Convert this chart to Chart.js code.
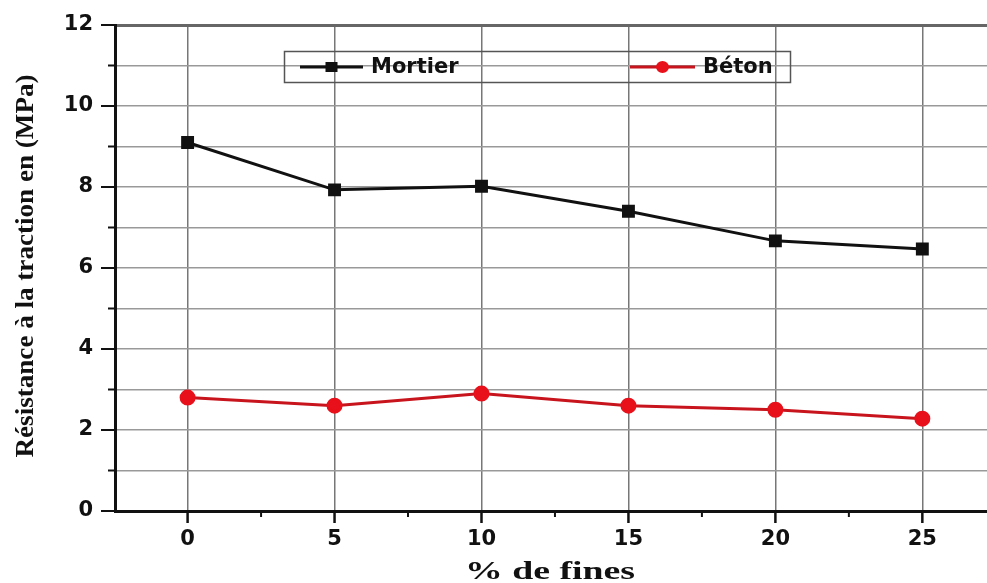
<!DOCTYPE html>
<html><head><meta charset="utf-8">
<script src="https://cdn.jsdelivr.net/npm/chart.js@4/dist/chart.umd.min.js"></script>
<style>html,body{margin:0;padding:0;background:#fff}#wrap{width:987px;height:583px}</style>
</head><body><div id="wrap"><canvas id="c" width="987" height="583"></canvas></div>
<script>
const fines = [0, 5, 10, 15, 20, 25];
const mortier = [9.1, 7.93, 8.02, 7.4, 6.67, 6.47];
const beton = [2.8, 2.6, 2.9, 2.6, 2.5, 2.28];
const xTickValues = [0, 5, 10, 15, 20, 25];
const xMinorValues = [2.5, 7.5, 12.5, 17.5, 22.5];
const yTickValues = [0, 2, 4, 6, 8, 10, 12];
const yMinorValues = [1, 3, 5, 7, 9, 11];
const seriesNames = ['Mortier', 'Béton'];
const xTitle = '% de fines';
const yTitle = 'Résistance à la traction en (MPa)';

const tickFont = {family: 'DejaVu Sans', weight: 'bold', size: 21};

function stretchText(ctx, text, x, y, targetW, rot) {
  const tw = ctx.measureText(text).width;
  ctx.save();
  ctx.translate(x, y);
  if (rot) ctx.rotate(rot);
  ctx.scale(targetW / tw, 1);
  ctx.fillText(text, 0, 0);
  ctx.restore();
}

const decor = {
  id: 'decor',
  afterDraw(chart) {
    const ctx = chart.ctx;
    const xs = chart.scales.x, ys = chart.scales.y;
    const area = chart.chartArea;
    ctx.save();
    ctx.strokeStyle = '#111';
    ctx.lineWidth = 2;
    yTickValues.forEach(v => {
      const py = ys.getPixelForValue(v);
      ctx.beginPath(); ctx.moveTo(area.left - 14, py); ctx.lineTo(area.left, py); ctx.stroke();
    });
    yMinorValues.forEach(v => {
      const py = ys.getPixelForValue(v);
      ctx.beginPath(); ctx.moveTo(area.left - 7, py); ctx.lineTo(area.left, py); ctx.stroke();
    });
    ctx.lineWidth = 2.5;
    xTickValues.forEach(v => {
      const px = xs.getPixelForValue(v);
      ctx.beginPath(); ctx.moveTo(px, area.bottom); ctx.lineTo(px, area.bottom + 12); ctx.stroke();
    });
    ctx.lineWidth = 2;
    xMinorValues.forEach(v => {
      const px = xs.getPixelForValue(v);
      ctx.beginPath(); ctx.moveTo(px, area.bottom); ctx.lineTo(px, area.bottom + 6); ctx.stroke();
    });
    ctx.fillStyle = '#111';
    ctx.font = 'bold 25px "Liberation Serif"';
    ctx.textAlign = 'center';
    ctx.textBaseline = 'middle';
    stretchText(ctx, yTitle, 27, 266, 383, -Math.PI / 2);
    ctx.font = 'bold 26px "Liberation Serif"';
    ctx.textBaseline = 'alphabetic';
    stretchText(ctx, xTitle, 550, 579, 170, 0);

    ctx.strokeStyle = '#555';
    ctx.lineWidth = 1.5;
    ctx.strokeRect(284.5, 51.5, 506, 31);
    const ly = 67;
    const items = [
      {ds: chart.data.datasets[0], x0: 300, x1: 363, tx: 371},
      {ds: chart.data.datasets[1], x0: 630, x1: 695, tx: 703}
    ];
    items.forEach(it => {
      ctx.strokeStyle = it.ds.borderColor;
      ctx.lineWidth = 3;
      ctx.beginPath(); ctx.moveTo(it.x0, ly); ctx.lineTo(it.x1, ly); ctx.stroke();
      ctx.fillStyle = it.ds.pointBackgroundColor;
      const mx = (it.x0 + it.x1) / 2;
      if (it.ds.pointStyle === 'rect') {
        ctx.fillRect(mx - 6, ly - 5, 12, 10);
      } else {
        ctx.beginPath(); ctx.ellipse(mx, ly, 6.5, 6, 0, 0, Math.PI * 2); ctx.fill();
      }
      ctx.fillStyle = '#111';
      ctx.font = 'bold 21px "DejaVu Sans"';
      ctx.textAlign = 'left';
      ctx.textBaseline = 'middle';
      ctx.fillText(it.ds.label, it.tx, ly + 1);
    });
    ctx.restore();
  }
};

new Chart(document.getElementById('c'), {
  type: 'line',
  data: {
    datasets: [
      {
        label: seriesNames[0],
        data: fines.map((f, i) => ({x: f, y: mortier[i]})),
        borderColor: '#111',
        backgroundColor: '#111',
        pointBackgroundColor: '#111',
        pointBorderColor: '#111',
        pointStyle: 'rect',
        pointRadius: 7,
        borderWidth: 3,
        tension: 0
      },
      {
        label: seriesNames[1],
        data: fines.map((f, i) => ({x: f, y: beton[i]})),
        borderColor: '#c8141c',
        backgroundColor: '#e8101a',
        pointBackgroundColor: '#e8101a',
        pointBorderColor: '#e8101a',
        pointStyle: 'circle',
        pointRadius: 6.5,
        borderWidth: 3,
        tension: 0
      }
    ]
  },
  options: {
    responsive: false,
    devicePixelRatio: 1,
    animation: false,
    layout: {autoPadding: false, padding: {top: 25, right: 0, left: 0, bottom: 0}},
    plugins: {legend: {display: false}, tooltip: {enabled: false}},
    scales: {
      x: {
        type: 'linear',
        min: -2.47,
        max: 27.2,
        afterBuildTicks: s => { s.ticks = xTickValues.map(v => ({value: v})); },
        afterFit: s => { s.height = 72; s.paddingLeft = 0; s.paddingRight = 0; },
        grid: {color: '#777', lineWidth: 1.5, drawTicks: false},
        border: {display: true, color: '#111', width: 3},
        ticks: {font: tickFont, color: '#111', padding: 16, maxRotation: 0, autoSkip: false}
      },
      y: {
        type: 'linear',
        min: 0,
        max: 12,
        afterBuildTicks: s => { s.ticks = yTickValues.concat(yMinorValues).sort((a, b) => a - b).map(v => ({value: v})); },
        afterFit: s => { s.width = 115; s.paddingTop = 0; s.paddingBottom = 0; },
        grid: {
          drawTicks: false,
          color: c => c.tick && c.tick.value === 0 ? 'rgba(0,0,0,0)' : (c.tick && c.tick.value === 12 ? '#666' : '#999'),
          lineWidth: c => c.tick && c.tick.value === 12 ? 3 : 1.5
        },
        border: {display: true, color: '#111', width: 3},
        ticks: {
          font: tickFont, color: '#111', padding: 22, autoSkip: false,
          callback: v => (v % 2 === 0 ? String(v) : '')
        }
      }
    }
  },
  plugins: [decor]
});
</script>
</body></html>
